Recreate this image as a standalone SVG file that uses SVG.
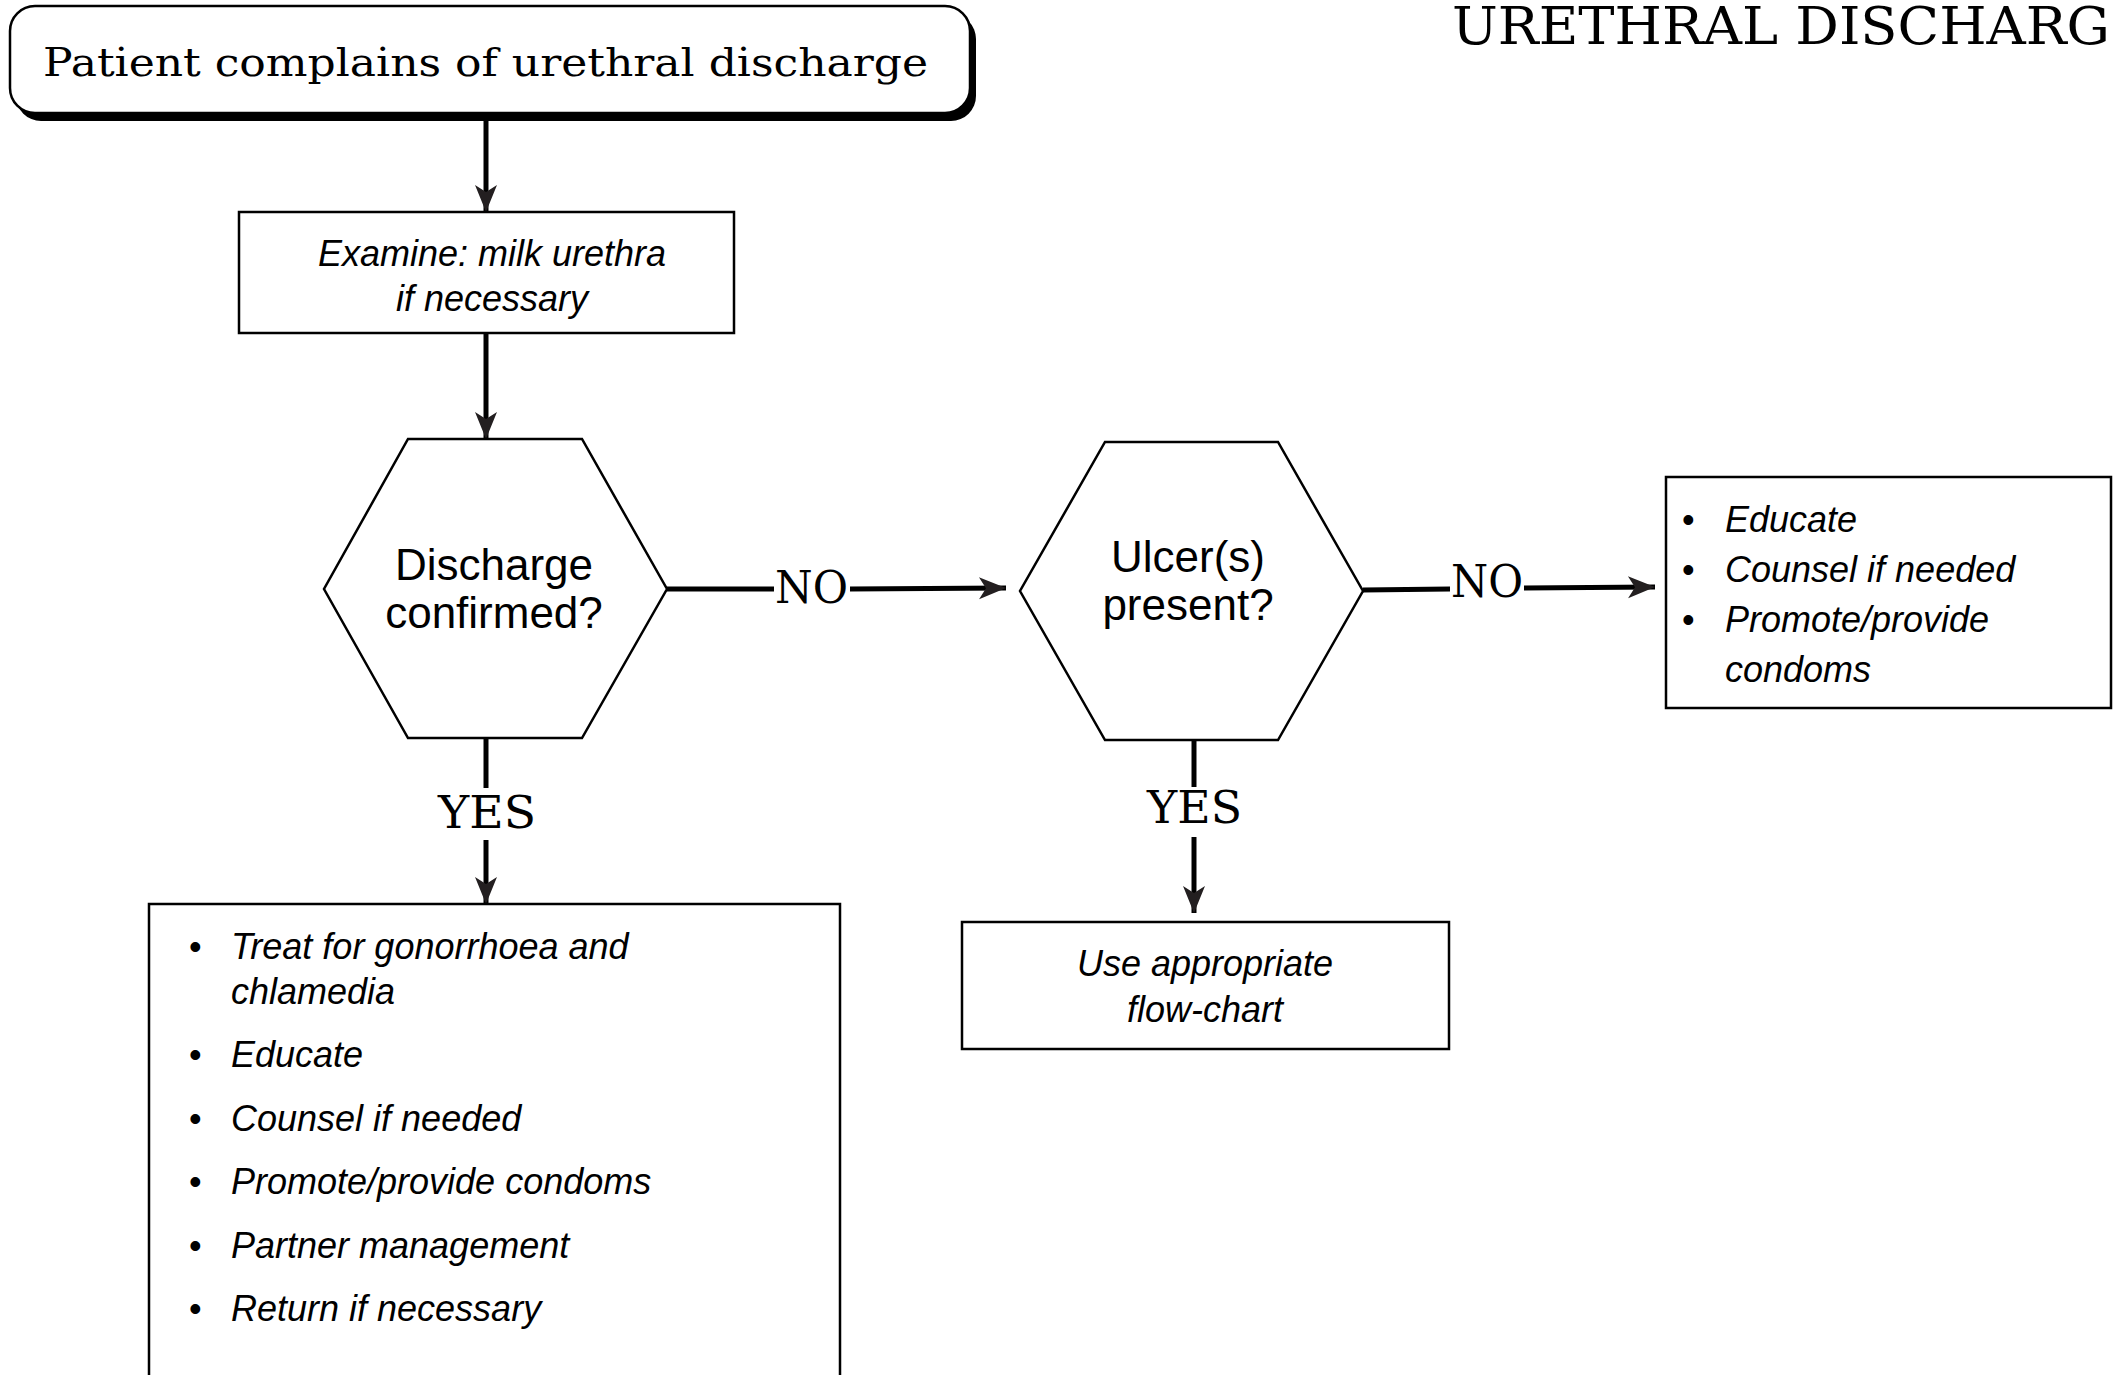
<svg xmlns="http://www.w3.org/2000/svg" width="2118" height="1375" viewBox="0 0 2118 1375">
  <defs>
    <marker id="arr" markerUnits="userSpaceOnUse" markerWidth="32" markerHeight="26" viewBox="0 -13 28 26" refX="27" refY="0" orient="auto">
      <path d="M0,-11 L27,0 L0,11 L7,0 Z" fill="#231f20"/>
    </marker>
  </defs>
  <style>
    .box { fill: #fff; stroke: #000; stroke-width: 2.5; }
    .hex { fill: #fff; stroke: #000; stroke-width: 2.5; }
    .conn { fill: none; stroke: #000; stroke-width: 5; }
    .serif { font-family: "DejaVu Serif", "Liberation Serif", serif; fill: #000; }
    .it { font-family: "Liberation Sans", Arial, sans-serif; font-style: italic; font-size: 36px; fill: #000; }
    .q { font-family: "Liberation Sans", Arial, sans-serif; font-size: 44px; fill: #000; text-anchor: middle; }
    .lbl { font-family: "DejaVu Serif", "Liberation Serif", serif; font-size: 44px; fill: #000; }
  </style>
  <rect width="2118" height="1375" fill="#fff"/>

  <text class="serif" x="1452" y="44" font-size="52" textLength="658" lengthAdjust="spacingAndGlyphs">URETHRAL DISCHARG</text>

  <g id="connectors">
    <line class="conn" x1="486" y1="120" x2="486" y2="212" marker-end="url(#arr)"/>
    <line class="conn" x1="486" y1="333" x2="486" y2="439" marker-end="url(#arr)"/>
    <line class="conn" x1="486" y1="738" x2="486" y2="788"/>
    <line class="conn" x1="486" y1="840" x2="486" y2="904" marker-end="url(#arr)"/>
    <text class="lbl" x="438" y="828" textLength="98" lengthAdjust="spacingAndGlyphs">YES</text>
    <line class="conn" x1="667" y1="589" x2="774" y2="589"/>
    <line class="conn" x1="850" y1="589" x2="1006" y2="588" marker-end="url(#arr)"/>
    <text class="lbl" x="775" y="603" textLength="73" lengthAdjust="spacingAndGlyphs">NO</text>
    <line class="conn" x1="1194" y1="740" x2="1194" y2="787"/>
    <line class="conn" x1="1194" y1="837" x2="1194" y2="913" marker-end="url(#arr)"/>
    <text class="lbl" x="1147" y="823" textLength="95" lengthAdjust="spacingAndGlyphs">YES</text>
    <line class="conn" x1="1363" y1="590" x2="1450" y2="589"/>
    <line class="conn" x1="1524" y1="588" x2="1655" y2="587" marker-end="url(#arr)"/>
    <text class="lbl" x="1451" y="597" textLength="72" lengthAdjust="spacingAndGlyphs">NO</text>
  </g>

  <g id="start">
    <rect x="16" y="14" width="960" height="107" rx="25" ry="25" fill="#000"/>
    <rect class="box" x="10" y="6" width="960" height="107" rx="25" ry="25"/>
    <text class="serif" x="43" y="76" font-size="40" textLength="885" lengthAdjust="spacingAndGlyphs">Patient complains of urethral discharge</text>
  </g>

  <g id="examine">
    <rect class="box" x="239" y="212" width="495" height="121"/>
    <text class="it" x="492" y="266" text-anchor="middle">Examine: milk urethra</text>
    <text class="it" x="492" y="311" text-anchor="middle">if necessary</text>
  </g>

  <g id="discharge-confirmed">
    <polygon class="hex" points="408,439 582,439 667,589 582,738 408,738 324,589"/>
    <text class="q" x="494" y="580">Discharge</text>
    <text class="q" x="494" y="628">confirmed?</text>
  </g>

  <g id="ulcers-present">
    <polygon class="hex" points="1105,442 1278,442 1363,591 1278,740 1105,740 1020,591"/>
    <text class="q" x="1188" y="572">Ulcer(s)</text>
    <text class="q" x="1188" y="620">present?</text>
  </g>

  <g id="no-ulcer-actions">
    <rect class="box" x="1666" y="477" width="445" height="231"/>
    <g class="it">
      <text x="1682" y="532" font-style="normal">•</text><text x="1725" y="532">Educate</text>
      <text x="1682" y="582" font-style="normal">•</text><text x="1725" y="582">Counsel if needed</text>
      <text x="1682" y="632" font-style="normal">•</text><text x="1725" y="632">Promote/provide</text>
      <text x="1725" y="682">condoms</text>
    </g>
  </g>

  <g id="use-flowchart">
    <rect class="box" x="962" y="922" width="487" height="127"/>
    <text class="it" x="1205" y="976" text-anchor="middle">Use appropriate</text>
    <text class="it" x="1205" y="1022" text-anchor="middle">flow-chart</text>
  </g>

  <g id="treatment">
    <rect class="box" x="149" y="904" width="691" height="520"/>
    <g class="it">
      <text x="189" y="959" font-style="normal">•</text><text x="231" y="959">Treat for gonorrhoea and</text>
      <text x="231" y="1004">chlamedia</text>
      <text x="189" y="1067" font-style="normal">•</text><text x="231" y="1067">Educate</text>
      <text x="189" y="1131" font-style="normal">•</text><text x="231" y="1131">Counsel if needed</text>
      <text x="189" y="1194" font-style="normal">•</text><text x="231" y="1194">Promote/provide condoms</text>
      <text x="189" y="1258" font-style="normal">•</text><text x="231" y="1258">Partner management</text>
      <text x="189" y="1321" font-style="normal">•</text><text x="231" y="1321">Return if necessary</text>
    </g>
  </g>
</svg>
